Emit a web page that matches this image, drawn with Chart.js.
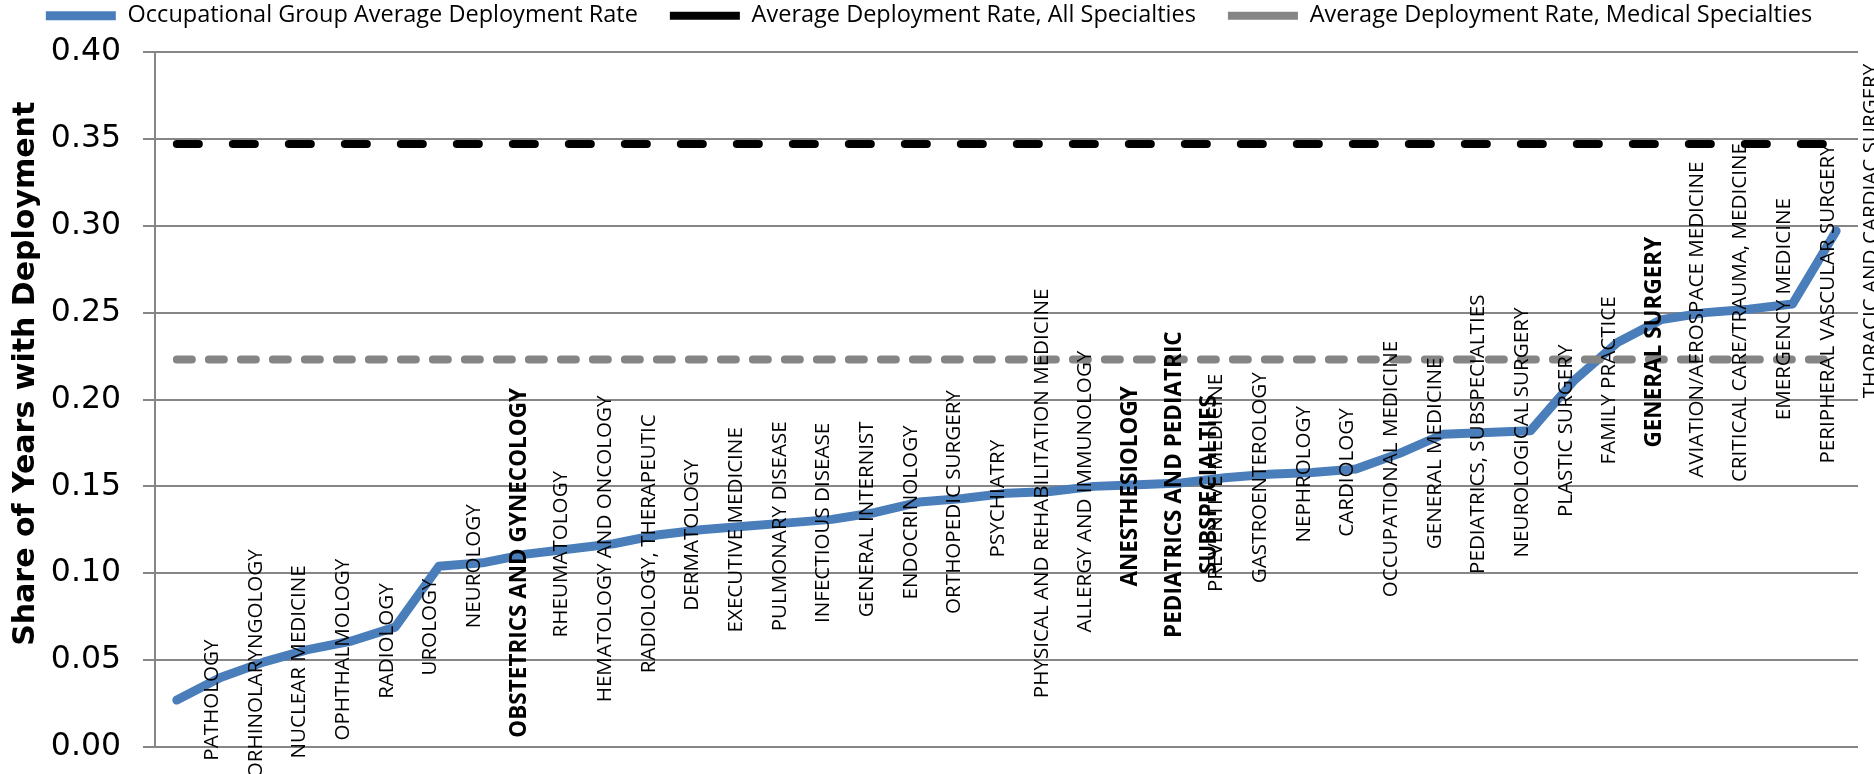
<!DOCTYPE html>
<html>
<head>
<meta charset="utf-8">
<title>Deployment rate by occupational group</title>
<script src="https://cdn.jsdelivr.net/npm/chart.js@4.4.1/dist/chart.umd.min.js"></script>
<style>
  html, body { margin: 0; padding: 0; background: #fff; }
  #wrap { width: 1874px; height: 774px; position: relative; }
</style>
</head>
<body>
<div id="wrap"><canvas id="deployChart"></canvas></div>
<script>
// specialties, sorted by their average deployment rate
const specialties = [
  'PATHOLOGY', 'OTORHINOLARYNGOLOGY', 'NUCLEAR MEDICINE', 'OPHTHALMOLOGY', 'RADIOLOGY',
  'UROLOGY', 'NEUROLOGY', 'OBSTETRICS AND GYNECOLOGY', 'RHEUMATOLOGY', 'HEMATOLOGY AND ONCOLOGY',
  'RADIOLOGY, THERAPEUTIC', 'DERMATOLOGY', 'EXECUTIVE MEDICINE', 'PULMONARY DISEASE', 'INFECTIOUS DISEASE',
  'GENERAL INTERNIST', 'ENDOCRINOLOGY', 'ORTHOPEDIC SURGERY', 'PSYCHIATRY', 'PHYSICAL AND REHABILITATION MEDICINE',
  'ALLERGY AND IMMUNOLOGY', 'ANESTHESIOLOGY', ['PEDIATRICS AND PEDIATRIC', 'SUBSPECIALTIES'], 'PREVENTIVE MEDICINE', 'GASTROENTEROLOGY',
  'NEPHROLOGY', 'CARDIOLOGY', 'OCCUPATIONAL MEDICINE', 'GENERAL MEDICINE', 'PEDIATRICS, SUBSPECIALTIES',
  'NEUROLOGICAL SURGERY', 'PLASTIC SURGERY', 'FAMILY PRACTICE', 'GENERAL SURGERY', 'AVIATION/AEROSPACE MEDICINE',
  'CRITICAL CARE/TRAUMA, MEDICINE', 'EMERGENCY MEDICINE', 'PERIPHERAL VASCULAR SURGERY', 'THORACIC AND CARDIAC SURGERY'
];

const deploymentRate = [
  0.027, 0.040, 0.049, 0.056, 0.061,
  0.069, 0.104, 0.106, 0.111, 0.114,
  0.117, 0.122, 0.125, 0.127, 0.129,
  0.131, 0.135, 0.141, 0.143, 0.146,
  0.147, 0.150, 0.151, 0.152, 0.155,
  0.157, 0.158, 0.160, 0.169, 0.180,
  0.181, 0.182, 0.211, 0.233, 0.246,
  0.250, 0.252, 0.255, 0.297
];

// reference levels
const allSpecialtiesRate = 0.347;
const medicalSpecialtiesRate = 0.223;

// groups written in bold
const boldSpecialties = [
  'OBSTETRICS AND GYNECOLOGY', 'ANESTHESIOLOGY',
  'PEDIATRICS AND PEDIATRIC SUBSPECIALTIES', 'GENERAL SURGERY'
];

const seriesNames = [
  'Occupational Group Average Deployment Rate',
  'Average Deployment Rate, All Specialties',
  'Average Deployment Rate, Medical Specialties'
];

const axisTitle = 'Share of Years with Deployment';

// labels standing on each point of the blue line
const pointLabels = {
  id: 'pointLabels',
  afterDatasetsDraw(chart) {
    const ctx = chart.ctx;
    const meta = chart.getDatasetMeta(0);
    ctx.save();
    ctx.fillStyle = '#000';
    ctx.textAlign = 'center';
    ctx.textBaseline = 'alphabetic';
    meta.data.forEach((pt, i) => {
      const name = specialties[i];
      const lines = Array.isArray(name) ? name : [name];
      const bold = boldSpecialties.includes(lines.join(' '));
      ctx.font = bold ? 'bold 22.5px "Open Sans"' : '20.6px "Open Sans"';
      const first = bold ? 43 : 41;
      lines.forEach((line, k) => {
        ctx.save();
        ctx.translate(pt.x + first + k * 35, pt.y);
        ctx.rotate(-Math.PI / 2);
        ctx.fillText(line, 0, 0);
        ctx.restore();
      });
    });
    ctx.restore();
  },
  afterDraw(chart) {
    const ctx = chart.ctx;
    const area = chart.chartArea;
    ctx.save();
    ctx.fillStyle = '#000';
    ctx.font = 'bold 30px "DejaVu Sans"';
    ctx.textAlign = 'center';
    ctx.textBaseline = 'alphabetic';
    ctx.translate(34, area.top + area.height * 0.463);
    ctx.rotate(-Math.PI / 2);
    ctx.fillText(axisTitle, 0, 0);
    ctx.restore();
  }
};

// room between the legend and the plot
const legendRoom = {
  id: 'legendRoom',
  beforeInit(chart) {
    const fit = chart.legend.fit;
    chart.legend.fit = function () {
      fit.call(this);
      this.height = 80;
    };
  }
};

const ctx = document.getElementById('deployChart').getContext('2d');

const deployChart = new Chart(ctx, {
  type: 'line',
  data: {
    labels: specialties,
    datasets: [
      {
        label: seriesNames[0],
        data: deploymentRate,
        borderColor: '#4A7EBB',
        backgroundColor: '#4A7EBB',
        borderWidth: 9,
        borderCapStyle: 'round',
        borderJoinStyle: 'round',
        pointRadius: 0,
        tension: 0,
        order: 3
      },
      {
        label: seriesNames[1],
        data: specialties.map(() => allSpecialtiesRate),
        borderColor: '#000000',
        backgroundColor: '#000000',
        borderWidth: 8,
        borderDash: [22, 34],
        borderCapStyle: 'round',
        pointRadius: 0,
        order: 2
      },
      {
        label: seriesNames[2],
        data: specialties.map(() => medicalSpecialtiesRate),
        borderColor: '#858585',
        backgroundColor: '#858585',
        borderWidth: 8,
        borderDash: [15, 17],
        borderCapStyle: 'round',
        pointRadius: 0,
        order: 1
      }
    ]
  },
  options: {
    responsive: true,
    maintainAspectRatio: false,
    animation: false,
    layout: {
      padding: { top: -28, right: 16, bottom: 0, left: 0 }
    },
    plugins: {
      tooltip: { enabled: false },
      legend: {
        position: 'top',
        labels: {
          usePointStyle: true,
          pointStyle: 'line',
          pointStyleWidth: 70,
          padding: 32,
          color: '#000',
          font: { family: 'Open Sans', size: 23.5 },
          sort: (a, b) => a.datasetIndex - b.datasetIndex
        }
      }
    },
    scales: {
      x: {
        display: false,
        offset: true
      },
      y: {
        min: 0,
        max: 0.4,
        afterFit: scale => {
          scale.width = 155;
          scale.paddingTop = 0;
          scale.paddingBottom = 27;
        },
        ticks: {
          stepSize: 0.05,
          padding: 22,
          color: '#000',
          font: { family: 'DejaVu Sans', size: 31.5 },
          callback: v => v.toFixed(2)
        },
        grid: {
          color: '#868686',
          lineWidth: 2,
          tickLength: 12,
          tickColor: '#868686'
        },
        border: { display: true, color: '#868686', width: 2 }
      }
    }
  },
  plugins: [pointLabels, legendRoom]
});
</script>
</body>
</html>
